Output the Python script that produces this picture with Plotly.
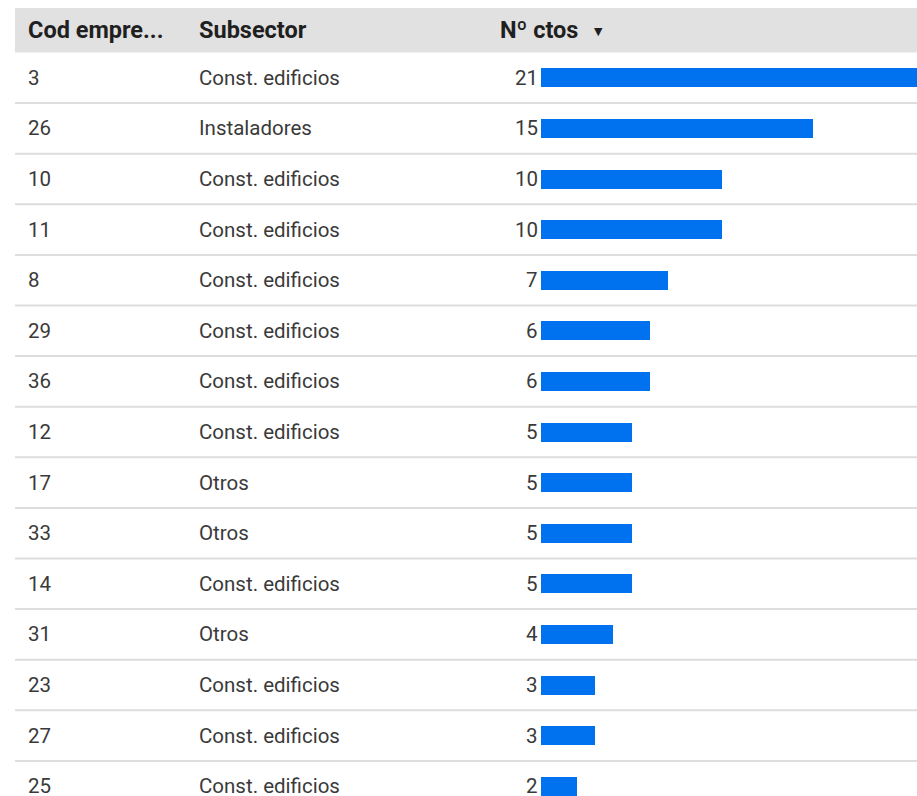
import plotly.graph_objects as go

# Table rows
empresas = ["3", "26", "10", "11", "8", "29", "36", "12", "17", "33", "14", "31", "23", "27", "25"]
subsectores = ["Const. edificios", "Instaladores", "Const. edificios", "Const. edificios",
               "Const. edificios", "Const. edificios", "Const. edificios", "Const. edificios",
               "Otros", "Otros", "Const. edificios", "Otros", "Const. edificios",
               "Const. edificios", "Const. edificios"]
n_ctos = [21, 15, 10, 10, 7, 6, 6, 5, 5, 5, 5, 4, 3, 3, 2]
headers = ["Cod empre...", "Subsector", "Nº ctos"]

W, H = 917, 796
ROW_H = 50.6
HEADER_TOP, HEADER_BOTTOM = 8, 52.5
BAR_X0 = 541
PX_PER_UNIT = 18.1

rows = list(range(len(empresas)))

# y axis: one unit per table row, reversed so the first row is on top
y_top = -0.5 - HEADER_BOTTOM / ROW_H
y_bottom = -0.5 + (H - HEADER_BOTTOM) / ROW_H
y_header_top = -0.5 - (HEADER_BOTTOM - HEADER_TOP) / ROW_H

# x axis: value scale whose zero sits at the start of the bar column
x_min = -BAR_X0 / PX_PER_UNIT
x_max = (W - BAR_X0) / PX_PER_UNIT

BAR_COLOR = "#0072f0"
TEXT = "#3a3a3a"
HEAD = "#1f1f1f"
FONT = "Roboto"

fig = go.Figure()
fig.add_trace(go.Bar(
    x=n_ctos, y=rows, orientation="h", base=0,
    marker=dict(color=BAR_COLOR, line=dict(width=0)),
    width=19 / ROW_H, hoverinfo="skip", showlegend=False,
))

shapes = [
    dict(type="rect", xref="paper", yref="y", x0=15 / W, x1=1, y0=y_header_top, y1=-0.5,
         fillcolor="#e1e1e1", line=dict(width=0), layer="below"),
]
for i in rows[:-1]:
    shapes.append(dict(type="line", xref="paper", yref="y", x0=15 / W, x1=1,
                       y0=i + 0.5, y1=i + 0.5, line=dict(color="#dddddd", width=2),
                       layer="below"))

annotations = []
header_y = (y_header_top - 0.5) / 2
head_font = dict(family=FONT, size=23.5, color=HEAD)
for text, xp in zip(headers, [26, 197, 498]):
    annotations.append(dict(x=xp / W, xref="paper", y=header_y, yref="y", text=f"<b>{text}</b>",
                            showarrow=False, xanchor="left", yanchor="middle", font=head_font))
annotations.append(dict(x=592 / W, xref="paper", y=header_y, yref="y", text="▼",
                        showarrow=False, xanchor="left", yanchor="middle", yshift=-1,
                        font=dict(family="DejaVu Sans", size=11, color=HEAD)))

body_font = dict(family=FONT, size=20.5, color=TEXT)
for i, (emp, sub, v) in enumerate(zip(empresas, subsectores, n_ctos)):
    annotations.append(dict(x=26 / W, xref="paper", y=i, yref="y", text=emp, showarrow=False,
                            xanchor="left", yanchor="middle", font=body_font))
    annotations.append(dict(x=197 / W, xref="paper", y=i, yref="y", text=sub, showarrow=False,
                            xanchor="left", yanchor="middle", font=body_font))
    annotations.append(dict(x=540 / W, xref="paper", y=i, yref="y", text=str(v), showarrow=False,
                            xanchor="right", yanchor="middle", font=body_font))

fig.update_layout(
    width=W, height=H,
    margin=dict(l=0, r=0, t=0, b=0),
    paper_bgcolor="white", plot_bgcolor="white",
    xaxis=dict(range=[x_min, x_max], visible=False, fixedrange=True),
    yaxis=dict(range=[y_bottom, y_top], visible=False, fixedrange=True),
    shapes=shapes, annotations=annotations,
    bargap=0,
)

fig.write_html("out.html")
